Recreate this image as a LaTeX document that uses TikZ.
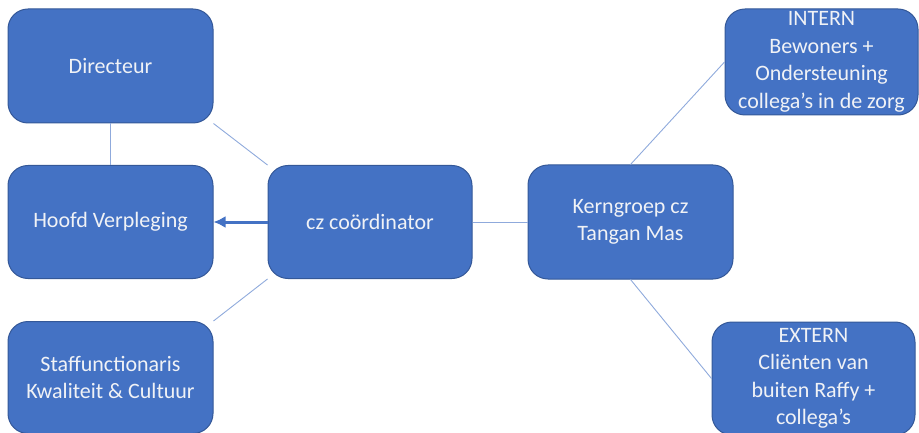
\documentclass[tikz,border=0pt]{standalone}
\usepackage{fontspec}
\setmainfont{Carlito}
\usepackage{tikz}

\tikzset{
  orgbox/.style={draw=boxedge, line width=1pt, fill=boxblue, rounded corners=20pt,
    text=boxtext, align=center, inner sep=0pt, font=\fontsize{22}{27.5}\selectfont},
  thinlink/.style={linkblue, line width=0.9pt},
  mainarrow/.style={boxblue, line width=3pt, -{Latex[length=12pt,width=12pt]}}
}
\usetikzlibrary{arrows.meta}

\begin{document}
\begin{tikzpicture}[x=1pt,y=1pt,yscale=-1,xscale=1]

\definecolor{boxblue}{RGB}{68,114,196}
\definecolor{boxedge}{RGB}{52,88,152}
\definecolor{boxtext}{RGB}{240,242,246}
\definecolor{linkblue}{RGB}{143,170,220}

\useasboundingbox (0,0) rectangle (919,433);

% left column
\node[orgbox, minimum width=205, minimum height=114] (dir) at (110.5, 66) {Directeur};
\node[orgbox, minimum width=205, minimum height=113] (hoofd) at (110.5, 222) {Hoofd Verpleging};
\node[orgbox, minimum width=205, minimum height=112] (staff) at (110.5, 377.5) {Staffunctionaris\\Kwaliteit \& Cultuur};

% middle
\node[orgbox, minimum width=204, minimum height=113] (coord) at (370, 222) {cz coördinator};
\node[orgbox, minimum width=205, minimum height=114] (kern) at (630.5, 222) {Kerngroep cz\\Tangan Mas};

% right column
\node[orgbox, minimum width=193, minimum height=106] (intern) at (821.5, 62) {INTERN\\Bewoners +\\Ondersteuning\\collega’s in de zorg};
\node[orgbox, minimum width=203, minimum height=113] (extern) at (813.5, 378.5) {EXTERN\\Cliënten van\\buiten Raffy +\\collega’s};

% connectors
\draw[thinlink] (dir.south) -- (hoofd.north);
\draw[thinlink] (dir.south east) -- (coord.north west);
\draw[thinlink] (coord.south west) -- (staff.north east);
\draw[mainarrow] (coord.west) -- (hoofd.east);
\draw[thinlink] (coord.east) -- (kern.west);
\draw[thinlink] (kern.north) -- (intern.west);
\draw[thinlink] (kern.south) -- (extern.west);

\end{tikzpicture}
\end{document}
